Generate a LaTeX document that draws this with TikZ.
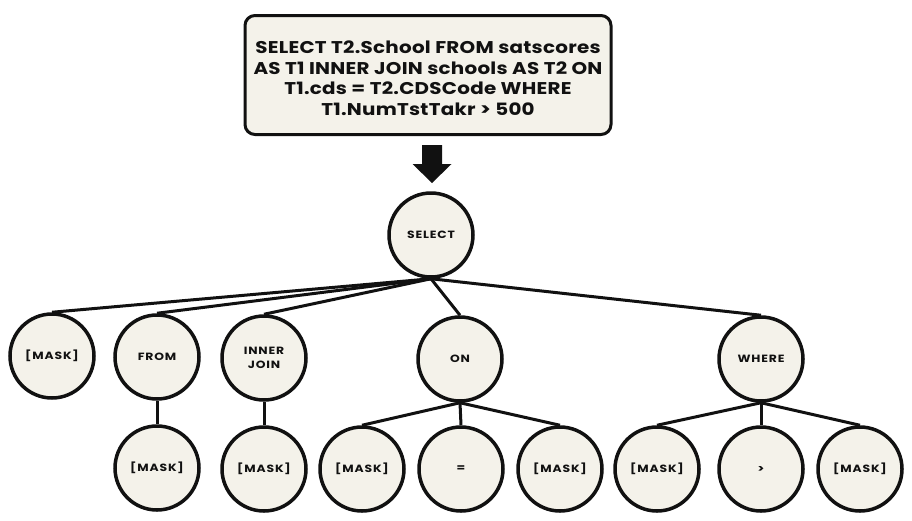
\documentclass[tikz,border=0pt]{standalone}
\usepackage{fontspec}
\setmainfont{Poppins}
\newfontfamily\boxfont[FakeStretch=1.17,LetterSpace=1.5]{Poppins}
\newfontfamily\lblfont[FakeStretch=1.18,LetterSpace=8]{Poppins}
\definecolor{cream}{HTML}{F4F2EA}
\definecolor{ink}{HTML}{111111}
\tikzset{
  tnode/.style={circle,draw=ink,fill=cream,line width=3.5pt,minimum size=84pt,inner sep=0pt,
    font=\lblfont\bfseries\fontsize{10.5}{14}\selectfont,text=ink,align=center},
  edge/.style={draw=ink,line width=3pt},
  qbox/.style={draw=ink,fill=cream,line width=3pt,rounded corners=10pt,minimum width=366pt,minimum height=119pt,inner sep=0pt},
  qtext/.style={font=\boxfont\bfseries\fontsize{17}{20.5}\selectfont,text=ink,align=center,inner sep=0pt}
}
\begin{document}
\begin{tikzpicture}[x=1pt,y=-1pt]
\useasboundingbox (0,0) rectangle (912,520);
\node[qbox] (q) at (428,75) {};
\node[qtext] (qt) at (428,78) {SELECT T2.School FROM satscores\\AS T1 INNER JOIN schools AS T2 ON\\T1.cds = T2.CDSCode WHERE\\T1.NumTstTakr > 500};
\coordinate (arr) at (432,145);
\fill[ink] ([xshift=-10pt]arr) -- ++(20,0) -- ++(0,19) -- ++(9.5,0) -- (432,183) -- (412.5,164) -- ++(9.5,0) -- cycle;
\node[tnode] (sel) at (431,235) {SELECT};
\node[tnode] (m1) at (52,356) {[MASK]};
\node[tnode] (from) at (157,357) {FROM};
\node[tnode] (ij) at (264,358) {INNER\\JOIN};
\node[tnode] (on) at (460,359) {ON};
\node[tnode] (where) at (761,359) {WHERE};
\node[tnode] (fm) at (157,468) {[MASK]};
\node[tnode] (ijm) at (264,469) {[MASK]};
\node[tnode] (onl) at (362,469) {[MASK]};
\node[tnode] (oneq) at (461,469) {=};
\node[tnode] (onr) at (560,469) {[MASK]};
\node[tnode] (wl) at (657,469) {[MASK]};
\node[tnode] (wgt) at (761,469) {>};
\node[tnode] (wr) at (860,469) {[MASK]};
\foreach \c in {m1,from,ij,on,where} \draw[edge] (sel.south) -- (\c.north);
\draw[edge] (from.south) -- (fm.north);
\draw[edge] (ij.south) -- (ijm.north);
\foreach \c in {onl,oneq,onr} \draw[edge] (on.south) -- (\c.north);
\foreach \c in {wl,wgt,wr} \draw[edge] (where.south) -- (\c.north);
\end{tikzpicture}
\end{document}
